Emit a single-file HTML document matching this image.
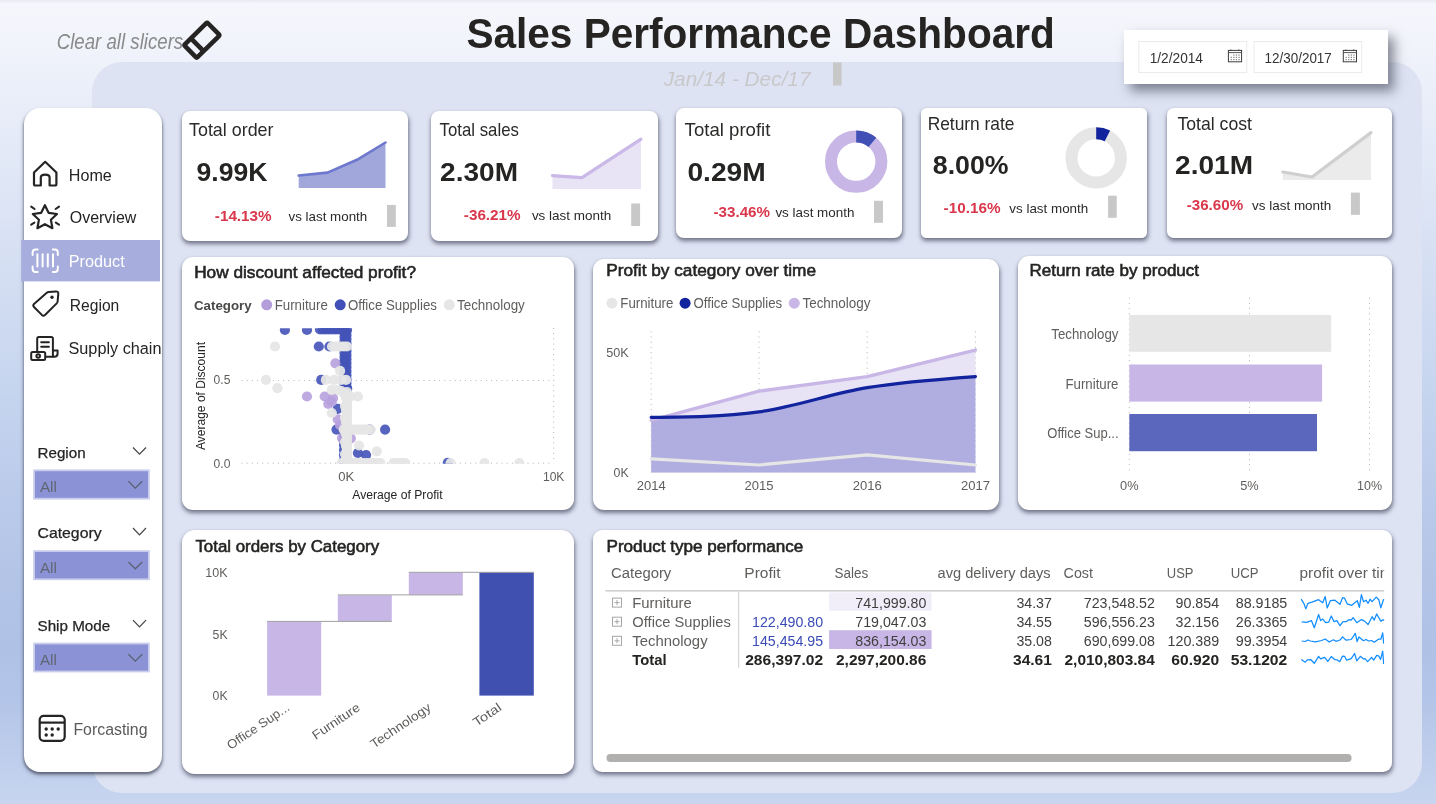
<!DOCTYPE html>
<html lang="en"><head><meta charset="utf-8"><title>Sales Performance Dashboard</title>
<style>
html,body{margin:0;padding:0}
body{width:1436px;height:804px;overflow:hidden;position:relative;font-family:"Liberation Sans", sans-serif;background:#c5d2ee}
#bg{position:absolute;left:0;top:0;width:1436px;height:804px;background:linear-gradient(180deg,#f6f7fc 0px,#f2f4fb 40px,#e9eef9 100px,#dde5f5 200px,#d1dcf2 300px,#c5d4ee 400px,#bacaea 500px,#b1c3e6 600px,#afc1e5 650px,#b3c5e8 700px,#bfceec 760px,#c7d5ef 804px)}
#topstrip{position:absolute;left:0;top:0;width:1436px;height:3px;background:linear-gradient(#e9ebf1,#f1f3fa)}
#panel{position:absolute;left:92px;top:62px;width:1330px;height:731px;border-radius:30px;background:#dde3f3}
.c{position:absolute;background:#fff}
svg{position:absolute;left:0;top:0}
svg text{font-family:"Liberation Sans", sans-serif;white-space:pre}
</style></head><body>
<div id="bg"></div><div id="topstrip"></div><div id="panel"></div>
<div class="c" style="left:24.4px;top:108.0px;width:137.8px;height:663.5px;border-radius:16px;box-shadow:-1px 2px 2px rgba(70,75,95,.33), 1px 2px 2px rgba(70,75,95,.33), 0 3px 4px rgba(70,75,95,.5);background:#fff;"></div>
<div class="c" style="left:182.2px;top:111.2px;width:226.2px;height:130.1px;border-radius:8px;box-shadow:0 0 1.5px rgba(70,75,95,.16), 0.5px 3px 4px rgba(65,70,90,.68);background:#fff;"></div>
<div class="c" style="left:430.5px;top:111.2px;width:227.0px;height:130.1px;border-radius:8px;box-shadow:0 0 1.5px rgba(70,75,95,.16), 0.5px 3px 4px rgba(65,70,90,.68);background:#fff;"></div>
<div class="c" style="left:675.8px;top:107.8px;width:226.7px;height:130.7px;border-radius:8px;box-shadow:0 0 1.5px rgba(70,75,95,.16), 0.5px 3px 4px rgba(65,70,90,.68);background:#fff;"></div>
<div class="c" style="left:920.8px;top:107.8px;width:226.7px;height:130.7px;border-radius:5.5px;box-shadow:0 0 1.5px rgba(70,75,95,.16), 0.5px 3px 4px rgba(65,70,90,.68);background:#fff;"></div>
<div class="c" style="left:1166.6px;top:107.8px;width:225.9px;height:130.7px;border-radius:6.5px;box-shadow:0 0 1.5px rgba(70,75,95,.16), 0.5px 3px 4px rgba(65,70,90,.68);background:#fff;"></div>
<div class="c" style="left:182.4px;top:256.8px;width:391.5px;height:253.4px;border-radius:11px;box-shadow:0 0 1.5px rgba(70,75,95,.16), 0.5px 3px 4px rgba(65,70,90,.68);background:#fff;"></div>
<div class="c" style="left:593.0px;top:259.2px;width:405.9px;height:250.8px;border-radius:11px;box-shadow:0 0 1.5px rgba(70,75,95,.16), 0.5px 3px 4px rgba(65,70,90,.68);background:#fff;"></div>
<div class="c" style="left:1018.4px;top:255.8px;width:373.9px;height:254.5px;border-radius:11px;box-shadow:0 0 1.5px rgba(70,75,95,.16), 0.5px 3px 4px rgba(65,70,90,.68);background:#fff;"></div>
<div class="c" style="left:182.4px;top:529.5px;width:391.3px;height:244.0px;border-radius:12.5px;box-shadow:0 0 1.5px rgba(70,75,95,.16), 0.5px 3px 4px rgba(65,70,90,.68);background:#fff;"></div>
<div class="c" style="left:593.0px;top:530.2px;width:799.2px;height:241.8px;border-radius:9px;box-shadow:0 0 1.5px rgba(70,75,95,.16), 0.5px 3px 4px rgba(65,70,90,.68);background:#fff;"></div>
<div class="c" style="left:1124.0px;top:30.0px;width:263.8px;height:53.5px;border-radius:0px;box-shadow:6px 7px 11px rgba(45,50,65,.55);background:#fff;"></div>
<svg width="1436" height="804" viewBox="0 0 1436 804">
<text x="56.7" y="49.0" font-size="21.5" fill="#8a8a8a" font-style="italic" textLength="126.5" lengthAdjust="spacingAndGlyphs" >Clear all slicers</text>
<g transform="translate(201.9,40.2) rotate(-44.5)" fill="none" stroke="#252423" stroke-width="4.6" stroke-linejoin="round"><rect x="-16.2" y="-9" width="32.4" height="18" rx="1.5"/><line x1="-6.5" y1="-9" x2="-6.5" y2="9"/></g>
<text x="466.4" y="48.4" font-size="43" fill="#252423" font-weight="bold" textLength="588.4" lengthAdjust="spacingAndGlyphs" >Sales Performance Dashboard</text>
<text x="663.7" y="86.2" font-size="21" fill="#c9c9cb" font-style="italic" textLength="146.8" lengthAdjust="spacingAndGlyphs" >Jan/14 - Dec/17</text>
<rect x="833.0" y="62.5" width="8.6" height="23.0" fill="#c8c8c8" />
<rect x="1138.8" y="41.5" width="108.0" height="31" fill="#fff" stroke="#ebebeb" stroke-width="1"/>
<text x="1149.7" y="63.3" font-size="14" fill="#333" textLength="53.3" lengthAdjust="spacingAndGlyphs" >1/2/2014</text>
<g transform="translate(1227.6,49.5)" fill="none" stroke="#3c3c3c" stroke-width="1"><rect x="0.8" y="0.9" width="13.2" height="11.4"/><line x1="0.8" y1="3.1" x2="14" y2="3.1" stroke="#555"/><line x1="3.3" y1="0" x2="3.3" y2="1.2"/><line x1="11.2" y1="0" x2="11.2" y2="1.2"/><rect x="3.0" y="7.3" width="1.3" height="1.1" fill="#7a7a7a" stroke="none"/><rect x="3.0" y="9.6" width="1.3" height="1.1" fill="#7a7a7a" stroke="none"/><rect x="5.6" y="5.0" width="1.3" height="1.1" fill="#7a7a7a" stroke="none"/><rect x="5.6" y="7.3" width="1.3" height="1.1" fill="#7a7a7a" stroke="none"/><rect x="5.6" y="9.6" width="1.3" height="1.1" fill="#7a7a7a" stroke="none"/><rect x="8.2" y="5.0" width="1.3" height="1.1" fill="#7a7a7a" stroke="none"/><rect x="8.2" y="7.3" width="1.3" height="1.1" fill="#7a7a7a" stroke="none"/><rect x="8.2" y="9.6" width="1.3" height="1.1" fill="#7a7a7a" stroke="none"/><rect x="10.8" y="5.0" width="1.3" height="1.1" fill="#7a7a7a" stroke="none"/><rect x="10.8" y="7.3" width="1.3" height="1.1" fill="#7a7a7a" stroke="none"/><rect x="10.8" y="9.6" width="1.3" height="1.1" fill="#7a7a7a" stroke="none"/></g>
<rect x="1254" y="41.5" width="107.7" height="31" fill="#fff" stroke="#ebebeb" stroke-width="1"/>
<text x="1264.6" y="63.3" font-size="14" fill="#333" textLength="67.2" lengthAdjust="spacingAndGlyphs" >12/30/2017</text>
<g transform="translate(1342.5,49.5)" fill="none" stroke="#3c3c3c" stroke-width="1"><rect x="0.8" y="0.9" width="13.2" height="11.4"/><line x1="0.8" y1="3.1" x2="14" y2="3.1" stroke="#555"/><line x1="3.3" y1="0" x2="3.3" y2="1.2"/><line x1="11.2" y1="0" x2="11.2" y2="1.2"/><rect x="3.0" y="7.3" width="1.3" height="1.1" fill="#7a7a7a" stroke="none"/><rect x="3.0" y="9.6" width="1.3" height="1.1" fill="#7a7a7a" stroke="none"/><rect x="5.6" y="5.0" width="1.3" height="1.1" fill="#7a7a7a" stroke="none"/><rect x="5.6" y="7.3" width="1.3" height="1.1" fill="#7a7a7a" stroke="none"/><rect x="5.6" y="9.6" width="1.3" height="1.1" fill="#7a7a7a" stroke="none"/><rect x="8.2" y="5.0" width="1.3" height="1.1" fill="#7a7a7a" stroke="none"/><rect x="8.2" y="7.3" width="1.3" height="1.1" fill="#7a7a7a" stroke="none"/><rect x="8.2" y="9.6" width="1.3" height="1.1" fill="#7a7a7a" stroke="none"/><rect x="10.8" y="5.0" width="1.3" height="1.1" fill="#7a7a7a" stroke="none"/><rect x="10.8" y="7.3" width="1.3" height="1.1" fill="#7a7a7a" stroke="none"/><rect x="10.8" y="9.6" width="1.3" height="1.1" fill="#7a7a7a" stroke="none"/></g>
<rect x="21.2" y="240.0" width="138.8" height="41.4" fill="#a7addc" />
<text x="68.8" y="180.7" font-size="16.8" fill="#252423" textLength="43.0" lengthAdjust="spacingAndGlyphs" >Home</text>
<text x="69.8" y="222.8" font-size="16.8" fill="#252423" textLength="66.5" lengthAdjust="spacingAndGlyphs" >Overview</text>
<text x="68.8" y="266.7" font-size="16.8" fill="#ffffff" textLength="55.9" lengthAdjust="spacingAndGlyphs" >Product</text>
<text x="69.8" y="310.8" font-size="16.8" fill="#252423" textLength="49.5" lengthAdjust="spacingAndGlyphs" >Region</text>
<clipPath id="sbclip"><rect x="24" y="330" width="137.6" height="40"/></clipPath>
<text x="68.5" y="353.8" font-size="16.8" fill="#252423" textLength="93.0" lengthAdjust="spacingAndGlyphs" clip-path="url(#sbclip)">Supply chain</text>
<path d="M34 172.5 L45.2 161.8 L56.4 172.5 V184 Q56.4 185.5 54.9 185.5 H49.6 V177.4 Q49.6 174.6 45.2 174.6 Q40.8 174.6 40.8 177.4 V185.5 H35.5 Q34 185.5 34 184 Z" fill="none" stroke="#252423" stroke-width="2.2" stroke-linejoin="round"/>
<polygon points="44.9,205.2 48.6,212.8 57.0,214.0 50.9,219.8 52.4,228.2 44.9,224.2 37.4,228.2 38.9,219.8 32.8,214.0 41.2,212.8" fill="none" stroke="#252423" stroke-width="2.2" stroke-linejoin="round"/>
<g stroke="#252423" stroke-width="2" stroke-linecap="round"><line x1="31.2" y1="206.6" x2="34.6" y2="209"/><line x1="59" y1="206.6" x2="55.6" y2="209"/><line x1="31.2" y1="224.6" x2="34.4" y2="222.6"/><line x1="59" y1="224.6" x2="55.8" y2="222.6"/></g>
<g fill="none" stroke="#fff" stroke-width="2" stroke-linecap="round"><path d="M32.6 255 V252.4 Q32.6 249.4 35.6 249.4 H37.6"/><path d="M57.8 255 V252.4 Q57.8 249.4 54.8 249.4 H52.8"/><path d="M32.6 266.4 V269 Q32.6 272 35.6 272 H37.6"/><path d="M57.8 266.4 V269 Q57.8 272 54.8 272 H52.8"/><line x1="37.4" y1="254.2" x2="37.4" y2="266.6"/><line x1="42.6" y1="254.2" x2="42.6" y2="266.6"/><line x1="47.8" y1="254.2" x2="47.8" y2="266.6"/><line x1="53" y1="254.2" x2="53" y2="266.6"/></g>
<path d="M48.6 292 L56 291.4 Q58.4 291.3 58.3 293.6 L57.6 301.5 Q57.5 302.6 56.7 303.4 L45 315 Q43.4 316.4 41.8 314.9 L34 307 Q32.6 305.4 34 303.9 L46.8 292.8 Q47.6 292.1 48.6 292 Z" fill="none" stroke="#252423" stroke-width="2" stroke-linejoin="round"/><circle cx="52" cy="297.3" r="1.7" fill="#252423"/>
<g fill="none" stroke="#252423" stroke-width="2" stroke-linejoin="round" stroke-linecap="round"><path d="M37.2 351 V338.6 Q37.2 336.9 38.9 336.9 H51.2 Q52.9 336.9 52.9 338.6 V356.6"/><path d="M52.9 350.6 H57.6 V353.4 Q57.6 356.8 54.2 356.8 H46.5"/><line x1="41.2" y1="342.2" x2="48.9" y2="342.2"/><line x1="41.2" y1="346.8" x2="48.9" y2="346.8"/><rect x="31.2" y="352" width="14" height="8" rx="1.5"/><circle cx="38.2" cy="356" r="1.8"/></g>
<text x="37.5" y="457.9" font-size="14.8" fill="#252423" textLength="48.1" lengthAdjust="spacingAndGlyphs" stroke="#252423" stroke-width="0.25">Region</text>
<polyline points="133,447.5 139.5,454.2 146,447.5" fill="none" stroke="#444" stroke-width="1.2"/>
<rect x="33.2" y="469.4" width="116.6" height="30.2" fill="#c9cdec" />
<rect x="35.0" y="471.2" width="113.0" height="26.6" fill="#8b93d6" />
<text x="39.9" y="491.7" font-size="14.5" fill="#5f6673" textLength="16.9" lengthAdjust="spacingAndGlyphs" >All</text>
<polyline points="128.4,481.3 135.3,488.1 142.2,481.3" fill="none" stroke="#5a6070" stroke-width="1.2"/>
<text x="37.5" y="538.4" font-size="14.8" fill="#252423" textLength="64.1" lengthAdjust="spacingAndGlyphs" stroke="#252423" stroke-width="0.25">Category</text>
<polyline points="133,528.0 139.5,534.8 146,528.0" fill="none" stroke="#444" stroke-width="1.2"/>
<rect x="33.2" y="550.2" width="116.6" height="30.0" fill="#c9cdec" />
<rect x="35.0" y="552.0" width="113.0" height="26.4" fill="#8b93d6" />
<text x="39.9" y="572.5" font-size="14.5" fill="#5f6673" textLength="16.9" lengthAdjust="spacingAndGlyphs" >All</text>
<polyline points="128.4,562.0 135.3,568.8 142.2,562.0" fill="none" stroke="#5a6070" stroke-width="1.2"/>
<text x="37.5" y="630.6" font-size="14.8" fill="#252423" textLength="72.7" lengthAdjust="spacingAndGlyphs" stroke="#252423" stroke-width="0.25">Ship Mode</text>
<polyline points="133,620.2 139.5,627.0 146,620.2" fill="none" stroke="#444" stroke-width="1.2"/>
<rect x="33.2" y="642.6" width="116.6" height="29.8" fill="#c9cdec" />
<rect x="35.0" y="644.4" width="113.0" height="26.2" fill="#8b93d6" />
<text x="39.9" y="665.0" font-size="14.5" fill="#5f6673" textLength="16.9" lengthAdjust="spacingAndGlyphs" >All</text>
<polyline points="128.4,654.3 135.3,661.1 142.2,654.3" fill="none" stroke="#5a6070" stroke-width="1.2"/>
<g fill="none" stroke="#252423" stroke-width="2.2"><rect x="39.7" y="715.8" width="25" height="25" rx="4"/><line x1="39.7" y1="722.6" x2="64.7" y2="722.6"/></g>
<circle cx="46.2" cy="729" r="1.7" fill="#252423"/>
<circle cx="52.2" cy="729" r="1.7" fill="#252423"/>
<circle cx="58.2" cy="729" r="1.7" fill="#252423"/>
<circle cx="46.2" cy="735" r="1.7" fill="#252423"/>
<circle cx="52.2" cy="735" r="1.7" fill="#252423"/>
<text x="73.4" y="735.1" font-size="17.4" fill="#5a5a5a" textLength="74.1" lengthAdjust="spacingAndGlyphs" >Forcasting</text>
<text x="189.0" y="135.8" font-size="18.2" fill="#2b2a29" textLength="84.5" lengthAdjust="spacingAndGlyphs" >Total order</text>
<text x="196.6" y="180.6" font-size="25.6" fill="#252423" font-weight="bold" textLength="70.8" lengthAdjust="spacingAndGlyphs" >9.99K</text>
<text x="214.8" y="221.2" font-size="15" fill="#d9374b" font-weight="bold" textLength="56.9" lengthAdjust="spacingAndGlyphs" >-14.13%</text>
<text x="288.5" y="221.2" font-size="13.1" fill="#2b2a29" textLength="78.7" lengthAdjust="spacingAndGlyphs" >vs last month</text>
<rect x="387.0" y="204.9" width="8.8" height="22.0" fill="#c8c8c8" />
<text x="439.6" y="135.8" font-size="18.2" fill="#2b2a29" textLength="79.3" lengthAdjust="spacingAndGlyphs" >Total sales</text>
<text x="440.1" y="180.6" font-size="25.6" fill="#252423" font-weight="bold" textLength="77.9" lengthAdjust="spacingAndGlyphs" >2.30M</text>
<text x="463.8" y="219.6" font-size="15" fill="#d9374b" font-weight="bold" textLength="56.9" lengthAdjust="spacingAndGlyphs" >-36.21%</text>
<text x="531.9" y="219.6" font-size="13.1" fill="#2b2a29" textLength="79.3" lengthAdjust="spacingAndGlyphs" >vs last month</text>
<rect x="631.2" y="203.5" width="8.9" height="22.5" fill="#c8c8c8" />
<text x="684.6" y="136.0" font-size="18.2" fill="#2b2a29" textLength="85.8" lengthAdjust="spacingAndGlyphs" >Total profit</text>
<text x="687.4" y="180.8" font-size="25.6" fill="#252423" font-weight="bold" textLength="78.3" lengthAdjust="spacingAndGlyphs" >0.29M</text>
<text x="713.5" y="217.3" font-size="15" fill="#d9374b" font-weight="bold" textLength="56.5" lengthAdjust="spacingAndGlyphs" >-33.46%</text>
<text x="775.4" y="217.3" font-size="13.1" fill="#2b2a29" textLength="79.0" lengthAdjust="spacingAndGlyphs" >vs last month</text>
<rect x="874.0" y="200.8" width="9.0" height="22.0" fill="#c8c8c8" />
<text x="927.7" y="129.9" font-size="18.2" fill="#2b2a29" textLength="86.8" lengthAdjust="spacingAndGlyphs" >Return rate</text>
<text x="932.8" y="174.3" font-size="25.6" fill="#252423" font-weight="bold" textLength="75.7" lengthAdjust="spacingAndGlyphs" >8.00%</text>
<text x="943.6" y="213.0" font-size="15" fill="#d9374b" font-weight="bold" textLength="56.9" lengthAdjust="spacingAndGlyphs" >-10.16%</text>
<text x="1009.3" y="213.0" font-size="13.1" fill="#2b2a29" textLength="78.9" lengthAdjust="spacingAndGlyphs" >vs last month</text>
<rect x="1108.1" y="195.7" width="8.6" height="22.1" fill="#c8c8c8" />
<text x="1177.4" y="129.9" font-size="18.2" fill="#2b2a29" textLength="74.6" lengthAdjust="spacingAndGlyphs" >Total cost</text>
<text x="1175.1" y="174.3" font-size="25.6" fill="#252423" font-weight="bold" textLength="77.9" lengthAdjust="spacingAndGlyphs" >2.01M</text>
<text x="1186.7" y="209.8" font-size="15" fill="#d9374b" font-weight="bold" textLength="56.5" lengthAdjust="spacingAndGlyphs" >-36.60%</text>
<text x="1252.0" y="209.8" font-size="13.1" fill="#2b2a29" textLength="79.3" lengthAdjust="spacingAndGlyphs" >vs last month</text>
<rect x="1350.9" y="192.6" width="9.0" height="22.2" fill="#c8c8c8" />
<polygon points="298.7,188 298.7,175.5 327.5,172.6 357.0,159.8 385.5,142.5 385.5,188" fill="#a1a7da"/>
<polyline points="298.7,175.5 327.5,172.6 357.0,159.8 385.5,142.5" fill="none" stroke="#6d77cd" stroke-width="2.6" stroke-linecap="round" stroke-linejoin="round"/>
<polygon points="552.5,189 552.5,175.6 582.0,177.6 641.0,139.2 641.0,189" fill="#e9e3f6"/>
<polyline points="552.5,175.6 582.0,177.6 641.0,139.2" fill="none" stroke="#c9b8e8" stroke-width="3.2" stroke-linecap="round" stroke-linejoin="round"/>
<polygon points="1282.8,179.9 1282.8,172.0 1312.0,177.0 1371.0,132.6 1371.0,179.9" fill="#ebebeb"/>
<polyline points="1282.8,172.0 1312.0,177.0 1371.0,132.6" fill="none" stroke="#cfcfcf" stroke-width="3.2" stroke-linecap="round" stroke-linejoin="round"/>
<circle cx="856.2" cy="161.6" r="25.20" fill="none" stroke="#c8b7e6" stroke-width="12.00"/>
<path d="M856.20 136.40 A25.20 25.20 0 0 1 872.40 142.30" fill="none" stroke="#4050b5" stroke-width="12.00"/>
<circle cx="1096.2" cy="157.9" r="24.70" fill="none" stroke="#e6e6e6" stroke-width="12.00"/>
<path d="M1096.20 133.20 A24.70 24.70 0 0 1 1107.41 135.89" fill="none" stroke="#12239e" stroke-width="12.00"/>
<text x="194.2" y="278.3" font-size="15.9" fill="#252423" textLength="221.8" lengthAdjust="spacingAndGlyphs" stroke="#252423" stroke-width="0.55">How discount affected profit?</text>
<text x="606.2" y="276.2" font-size="15.9" fill="#252423" textLength="209.9" lengthAdjust="spacingAndGlyphs" stroke="#252423" stroke-width="0.55">Profit by category over time</text>
<text x="1029.5" y="276.2" font-size="15.9" fill="#252423" textLength="169.6" lengthAdjust="spacingAndGlyphs" stroke="#252423" stroke-width="0.55">Return rate by product</text>
<text x="195.4" y="552.4" font-size="15.9" fill="#252423" textLength="183.7" lengthAdjust="spacingAndGlyphs" stroke="#252423" stroke-width="0.55">Total orders by Category</text>
<text x="606.5" y="552.4" font-size="15.9" fill="#252423" textLength="196.8" lengthAdjust="spacingAndGlyphs" stroke="#252423" stroke-width="0.55">Product type performance</text>
<text x="194.0" y="309.6" font-size="12.6" fill="#4a4948" font-weight="bold" textLength="57.6" lengthAdjust="spacingAndGlyphs" >Category</text>
<circle cx="266.7" cy="304.8" r="5.5" fill="#b39ddb"/>
<text x="274.7" y="309.6" font-size="13.9" fill="#605e5c" textLength="53.1" lengthAdjust="spacingAndGlyphs" >Furniture</text>
<circle cx="340.2" cy="304.8" r="5.5" fill="#4050b8"/>
<text x="347.9" y="309.6" font-size="13.9" fill="#605e5c" textLength="89.0" lengthAdjust="spacingAndGlyphs" >Office Supplies</text>
<circle cx="449.3" cy="304.8" r="5.5" fill="#e6e6e6"/>
<text x="457.0" y="309.6" font-size="13.9" fill="#605e5c" textLength="67.8" lengthAdjust="spacingAndGlyphs" >Technology</text>
<line x1="241.5" y1="380.5" x2="553.7" y2="380.5" stroke="#b4b4b4" stroke-width="1" stroke-dasharray="1 4.2"/><line x1="241.5" y1="463.2" x2="553.7" y2="463.2" stroke="#b4b4b4" stroke-width="1" stroke-dasharray="1 4.2"/><line x1="346.2" y1="328" x2="346.2" y2="463.2" stroke="#b4b4b4" stroke-width="1" stroke-dasharray="1 4.2"/><line x1="553.7" y1="328" x2="553.7" y2="463.2" stroke="#b4b4b4" stroke-width="1" stroke-dasharray="1 4.2"/>
<text x="213.6" y="384.2" font-size="12" fill="#605e5c" textLength="16.8" lengthAdjust="spacingAndGlyphs" >0.5</text>
<text x="213.6" y="467.5" font-size="12" fill="#605e5c" textLength="16.8" lengthAdjust="spacingAndGlyphs" >0.0</text>
<text x="346.2" y="480.8" font-size="12" fill="#605e5c" text-anchor="middle" textLength="16.0" lengthAdjust="spacingAndGlyphs" >0K</text>
<text x="553.7" y="480.8" font-size="12" fill="#605e5c" text-anchor="middle" textLength="21.5" lengthAdjust="spacingAndGlyphs" >10K</text>
<text x="352.3" y="498.8" font-size="12" fill="#252423" textLength="90.3" lengthAdjust="spacingAndGlyphs" >Average of Profit</text>
<text transform="translate(204.5,450) rotate(-90)" font-size="12" fill="#252423" textLength="108" lengthAdjust="spacingAndGlyphs">Average of Discount</text>
<clipPath id="scclip"><rect x="240" y="328.2" width="320" height="135.6"/></clipPath>
<g clip-path="url(#scclip)"><circle cx="284.9" cy="330.0" r="5.1" fill="#4453b8" fill-opacity="0.9"/><circle cx="307.0" cy="330.0" r="5.1" fill="#4453b8" fill-opacity="0.9"/><circle cx="318.8" cy="346.5" r="5.1" fill="#4453b8" fill-opacity="0.9"/><circle cx="329.4" cy="346.5" r="5.1" fill="#4453b8" fill-opacity="0.9"/><circle cx="343.6" cy="363.8" r="5.1" fill="#4453b8" fill-opacity="0.9"/><circle cx="321.2" cy="379.9" r="5.1" fill="#4453b8" fill-opacity="0.9"/><circle cx="347.2" cy="388.7" r="5.1" fill="#4453b8" fill-opacity="0.9"/><circle cx="337.7" cy="408.8" r="5.1" fill="#4453b8" fill-opacity="0.9"/><circle cx="336.5" cy="429.6" r="5.1" fill="#4453b8" fill-opacity="0.9"/><circle cx="369.7" cy="429.6" r="5.1" fill="#4453b8" fill-opacity="0.9"/><circle cx="385.1" cy="429.6" r="5.1" fill="#4453b8" fill-opacity="0.9"/><circle cx="366.1" cy="455.0" r="5.1" fill="#4453b8" fill-opacity="0.9"/><circle cx="357.9" cy="453.0" r="5.1" fill="#4453b8" fill-opacity="0.9"/><circle cx="447.8" cy="462.8" r="5.1" fill="#4453b8" fill-opacity="0.9"/><circle cx="320.0" cy="329.5" r="5.1" fill="#4453b8" fill-opacity="0.9"/><circle cx="323.0" cy="329.5" r="5.1" fill="#4453b8" fill-opacity="0.9"/><circle cx="326.0" cy="329.5" r="5.1" fill="#4453b8" fill-opacity="0.9"/><circle cx="329.0" cy="329.5" r="5.1" fill="#4453b8" fill-opacity="0.9"/><circle cx="332.0" cy="329.5" r="5.1" fill="#4453b8" fill-opacity="0.9"/><circle cx="335.0" cy="329.5" r="5.1" fill="#4453b8" fill-opacity="0.9"/><circle cx="338.0" cy="329.5" r="5.1" fill="#4453b8" fill-opacity="0.9"/><circle cx="341.0" cy="329.5" r="5.1" fill="#4453b8" fill-opacity="0.9"/><circle cx="344.0" cy="329.5" r="5.1" fill="#4453b8" fill-opacity="0.9"/><circle cx="347.0" cy="329.5" r="5.1" fill="#4453b8" fill-opacity="0.9"/><circle cx="346.5" cy="331.0" r="5.1" fill="#4453b8" fill-opacity="0.9"/><circle cx="344.5" cy="333.0" r="5.1" fill="#4453b8" fill-opacity="0.9"/><circle cx="346.5" cy="335.0" r="5.1" fill="#4453b8" fill-opacity="0.9"/><circle cx="344.5" cy="337.0" r="5.1" fill="#4453b8" fill-opacity="0.9"/><circle cx="346.5" cy="339.0" r="5.1" fill="#4453b8" fill-opacity="0.9"/><circle cx="344.5" cy="341.0" r="5.1" fill="#4453b8" fill-opacity="0.9"/><circle cx="346.5" cy="343.0" r="5.1" fill="#4453b8" fill-opacity="0.9"/><circle cx="344.5" cy="345.0" r="5.1" fill="#4453b8" fill-opacity="0.9"/><circle cx="346.5" cy="347.0" r="5.1" fill="#4453b8" fill-opacity="0.9"/><circle cx="344.5" cy="349.0" r="5.1" fill="#4453b8" fill-opacity="0.9"/><circle cx="346.5" cy="351.0" r="5.1" fill="#4453b8" fill-opacity="0.9"/><circle cx="344.5" cy="353.0" r="5.1" fill="#4453b8" fill-opacity="0.9"/><circle cx="346.5" cy="355.0" r="5.1" fill="#4453b8" fill-opacity="0.9"/><circle cx="344.5" cy="357.0" r="5.1" fill="#4453b8" fill-opacity="0.9"/><circle cx="346.5" cy="359.0" r="5.1" fill="#4453b8" fill-opacity="0.9"/><circle cx="344.5" cy="361.0" r="5.1" fill="#4453b8" fill-opacity="0.9"/><circle cx="346.5" cy="363.0" r="5.1" fill="#4453b8" fill-opacity="0.9"/><circle cx="344.5" cy="365.0" r="5.1" fill="#4453b8" fill-opacity="0.9"/><circle cx="346.5" cy="367.0" r="5.1" fill="#4453b8" fill-opacity="0.9"/><circle cx="344.5" cy="369.0" r="5.1" fill="#4453b8" fill-opacity="0.9"/><circle cx="346.5" cy="371.0" r="5.1" fill="#4453b8" fill-opacity="0.9"/><circle cx="344.5" cy="373.0" r="5.1" fill="#4453b8" fill-opacity="0.9"/><circle cx="346.5" cy="375.0" r="5.1" fill="#4453b8" fill-opacity="0.9"/><circle cx="344.5" cy="377.0" r="5.1" fill="#4453b8" fill-opacity="0.9"/><circle cx="346.5" cy="379.0" r="5.1" fill="#4453b8" fill-opacity="0.9"/><circle cx="344.5" cy="381.0" r="5.1" fill="#4453b8" fill-opacity="0.9"/><circle cx="346.5" cy="383.0" r="5.1" fill="#4453b8" fill-opacity="0.9"/><circle cx="344.5" cy="385.0" r="5.1" fill="#4453b8" fill-opacity="0.9"/><circle cx="346.5" cy="387.0" r="5.1" fill="#4453b8" fill-opacity="0.9"/><circle cx="344.5" cy="389.0" r="5.1" fill="#4453b8" fill-opacity="0.9"/><circle cx="346.5" cy="391.0" r="5.1" fill="#4453b8" fill-opacity="0.9"/><circle cx="344.5" cy="393.0" r="5.1" fill="#4453b8" fill-opacity="0.9"/><circle cx="344.0" cy="430.0" r="5.1" fill="#4453b8" fill-opacity="0.9"/><circle cx="344.0" cy="435.0" r="5.1" fill="#4453b8" fill-opacity="0.9"/><circle cx="344.0" cy="440.0" r="5.1" fill="#4453b8" fill-opacity="0.9"/><circle cx="344.0" cy="445.0" r="5.1" fill="#4453b8" fill-opacity="0.9"/><circle cx="344.0" cy="450.0" r="5.1" fill="#4453b8" fill-opacity="0.9"/><circle cx="344.0" cy="455.0" r="5.1" fill="#4453b8" fill-opacity="0.9"/><circle cx="344.0" cy="460.0" r="5.1" fill="#4453b8" fill-opacity="0.9"/><circle cx="344.0" cy="465.0" r="5.1" fill="#4453b8" fill-opacity="0.9"/><circle cx="307.0" cy="396.5" r="5.1" fill="#b7a1de" fill-opacity="0.9"/><circle cx="324.7" cy="396.5" r="5.1" fill="#b7a1de" fill-opacity="0.9"/><circle cx="335.4" cy="363.3" r="5.1" fill="#b7a1de" fill-opacity="0.9"/><circle cx="328.3" cy="404.0" r="5.1" fill="#b7a1de" fill-opacity="0.9"/><circle cx="331.8" cy="401.7" r="5.1" fill="#b7a1de" fill-opacity="0.9"/><circle cx="337.7" cy="419.4" r="5.1" fill="#b7a1de" fill-opacity="0.9"/><circle cx="350.8" cy="438.4" r="5.1" fill="#b7a1de" fill-opacity="0.9"/><circle cx="342.0" cy="438.0" r="5.1" fill="#b7a1de" fill-opacity="0.9"/><circle cx="340.0" cy="425.0" r="5.1" fill="#b7a1de" fill-opacity="0.9"/><circle cx="333.0" cy="398.0" r="5.1" fill="#b7a1de" fill-opacity="0.9"/><circle cx="275.0" cy="346.5" r="5.1" fill="#e6e6e6" fill-opacity="0.95"/><circle cx="266.0" cy="379.9" r="5.1" fill="#e6e6e6" fill-opacity="0.95"/><circle cx="277.4" cy="388.2" r="5.1" fill="#e6e6e6" fill-opacity="0.95"/><circle cx="340.1" cy="370.9" r="5.1" fill="#e6e6e6" fill-opacity="0.95"/><circle cx="325.9" cy="379.9" r="5.1" fill="#e6e6e6" fill-opacity="0.95"/><circle cx="334.2" cy="379.9" r="5.1" fill="#e6e6e6" fill-opacity="0.95"/><circle cx="341.3" cy="379.9" r="5.1" fill="#e6e6e6" fill-opacity="0.95"/><circle cx="346.0" cy="379.9" r="5.1" fill="#e6e6e6" fill-opacity="0.95"/><circle cx="331.8" cy="389.8" r="5.1" fill="#e6e6e6" fill-opacity="0.95"/><circle cx="337.7" cy="389.8" r="5.1" fill="#e6e6e6" fill-opacity="0.95"/><circle cx="341.3" cy="391.0" r="5.1" fill="#e6e6e6" fill-opacity="0.95"/><circle cx="357.9" cy="396.5" r="5.1" fill="#e6e6e6" fill-opacity="0.95"/><circle cx="346.0" cy="396.5" r="5.1" fill="#e6e6e6" fill-opacity="0.95"/><circle cx="350.8" cy="396.5" r="5.1" fill="#e6e6e6" fill-opacity="0.95"/><circle cx="331.8" cy="413.0" r="5.1" fill="#e6e6e6" fill-opacity="0.95"/><circle cx="359.0" cy="445.5" r="5.1" fill="#e6e6e6" fill-opacity="0.95"/><circle cx="376.8" cy="451.4" r="5.1" fill="#e6e6e6" fill-opacity="0.95"/><circle cx="450.6" cy="463.0" r="5.1" fill="#e6e6e6" fill-opacity="0.95"/><circle cx="484.5" cy="463.0" r="5.1" fill="#e6e6e6" fill-opacity="0.95"/><circle cx="519.3" cy="463.0" r="5.1" fill="#e6e6e6" fill-opacity="0.95"/><circle cx="332.0" cy="346.5" r="5.1" fill="#e6e6e6" fill-opacity="0.95"/><circle cx="335.0" cy="346.5" r="5.1" fill="#e6e6e6" fill-opacity="0.95"/><circle cx="338.0" cy="346.5" r="5.1" fill="#e6e6e6" fill-opacity="0.95"/><circle cx="341.0" cy="346.5" r="5.1" fill="#e6e6e6" fill-opacity="0.95"/><circle cx="344.0" cy="346.5" r="5.1" fill="#e6e6e6" fill-opacity="0.95"/><circle cx="347.0" cy="346.5" r="5.1" fill="#e6e6e6" fill-opacity="0.95"/><circle cx="347.0" cy="392.0" r="5.1" fill="#e6e6e6" fill-opacity="0.95"/><circle cx="345.0" cy="394.0" r="5.1" fill="#e6e6e6" fill-opacity="0.95"/><circle cx="347.0" cy="396.0" r="5.1" fill="#e6e6e6" fill-opacity="0.95"/><circle cx="346.0" cy="398.0" r="5.1" fill="#e6e6e6" fill-opacity="0.95"/><circle cx="347.0" cy="400.0" r="5.1" fill="#e6e6e6" fill-opacity="0.95"/><circle cx="347.0" cy="402.0" r="5.1" fill="#e6e6e6" fill-opacity="0.95"/><circle cx="347.0" cy="404.0" r="5.1" fill="#e6e6e6" fill-opacity="0.95"/><circle cx="345.0" cy="406.0" r="5.1" fill="#e6e6e6" fill-opacity="0.95"/><circle cx="347.0" cy="408.0" r="5.1" fill="#e6e6e6" fill-opacity="0.95"/><circle cx="346.0" cy="410.0" r="5.1" fill="#e6e6e6" fill-opacity="0.95"/><circle cx="347.0" cy="412.0" r="5.1" fill="#e6e6e6" fill-opacity="0.95"/><circle cx="347.0" cy="414.0" r="5.1" fill="#e6e6e6" fill-opacity="0.95"/><circle cx="347.0" cy="416.0" r="5.1" fill="#e6e6e6" fill-opacity="0.95"/><circle cx="345.0" cy="418.0" r="5.1" fill="#e6e6e6" fill-opacity="0.95"/><circle cx="347.0" cy="420.0" r="5.1" fill="#e6e6e6" fill-opacity="0.95"/><circle cx="346.0" cy="422.0" r="5.1" fill="#e6e6e6" fill-opacity="0.95"/><circle cx="347.0" cy="424.0" r="5.1" fill="#e6e6e6" fill-opacity="0.95"/><circle cx="347.0" cy="426.0" r="5.1" fill="#e6e6e6" fill-opacity="0.95"/><circle cx="347.0" cy="428.0" r="5.1" fill="#e6e6e6" fill-opacity="0.95"/><circle cx="345.0" cy="430.0" r="5.1" fill="#e6e6e6" fill-opacity="0.95"/><circle cx="347.0" cy="432.0" r="5.1" fill="#e6e6e6" fill-opacity="0.95"/><circle cx="346.0" cy="434.0" r="5.1" fill="#e6e6e6" fill-opacity="0.95"/><circle cx="347.0" cy="436.0" r="5.1" fill="#e6e6e6" fill-opacity="0.95"/><circle cx="347.0" cy="438.0" r="5.1" fill="#e6e6e6" fill-opacity="0.95"/><circle cx="347.0" cy="440.0" r="5.1" fill="#e6e6e6" fill-opacity="0.95"/><circle cx="345.0" cy="442.0" r="5.1" fill="#e6e6e6" fill-opacity="0.95"/><circle cx="347.0" cy="444.0" r="5.1" fill="#e6e6e6" fill-opacity="0.95"/><circle cx="346.0" cy="446.0" r="5.1" fill="#e6e6e6" fill-opacity="0.95"/><circle cx="347.0" cy="448.0" r="5.1" fill="#e6e6e6" fill-opacity="0.95"/><circle cx="347.0" cy="450.0" r="5.1" fill="#e6e6e6" fill-opacity="0.95"/><circle cx="347.0" cy="452.0" r="5.1" fill="#e6e6e6" fill-opacity="0.95"/><circle cx="345.0" cy="454.0" r="5.1" fill="#e6e6e6" fill-opacity="0.95"/><circle cx="347.0" cy="456.0" r="5.1" fill="#e6e6e6" fill-opacity="0.95"/><circle cx="346.0" cy="458.0" r="5.1" fill="#e6e6e6" fill-opacity="0.95"/><circle cx="347.0" cy="460.0" r="5.1" fill="#e6e6e6" fill-opacity="0.95"/><circle cx="347.0" cy="462.0" r="5.1" fill="#e6e6e6" fill-opacity="0.95"/><circle cx="343.7" cy="429.6" r="5.1" fill="#e6e6e6" fill-opacity="0.95"/><circle cx="346.7" cy="429.6" r="5.1" fill="#e6e6e6" fill-opacity="0.95"/><circle cx="349.7" cy="429.6" r="5.1" fill="#e6e6e6" fill-opacity="0.95"/><circle cx="352.7" cy="429.6" r="5.1" fill="#e6e6e6" fill-opacity="0.95"/><circle cx="355.7" cy="429.6" r="5.1" fill="#e6e6e6" fill-opacity="0.95"/><circle cx="358.7" cy="429.6" r="5.1" fill="#e6e6e6" fill-opacity="0.95"/><circle cx="361.7" cy="429.6" r="5.1" fill="#e6e6e6" fill-opacity="0.95"/><circle cx="364.7" cy="429.6" r="5.1" fill="#e6e6e6" fill-opacity="0.95"/><circle cx="367.7" cy="429.6" r="5.1" fill="#e6e6e6" fill-opacity="0.95"/><circle cx="370.7" cy="429.6" r="5.1" fill="#e6e6e6" fill-opacity="0.95"/><circle cx="341.5" cy="463.0" r="5.1" fill="#e6e6e6" fill-opacity="0.95"/><circle cx="344.5" cy="463.0" r="5.1" fill="#e6e6e6" fill-opacity="0.95"/><circle cx="347.5" cy="463.0" r="5.1" fill="#e6e6e6" fill-opacity="0.95"/><circle cx="350.5" cy="463.0" r="5.1" fill="#e6e6e6" fill-opacity="0.95"/><circle cx="353.5" cy="463.0" r="5.1" fill="#e6e6e6" fill-opacity="0.95"/><circle cx="356.5" cy="463.0" r="5.1" fill="#e6e6e6" fill-opacity="0.95"/><circle cx="359.5" cy="463.0" r="5.1" fill="#e6e6e6" fill-opacity="0.95"/><circle cx="362.5" cy="463.0" r="5.1" fill="#e6e6e6" fill-opacity="0.95"/><circle cx="365.5" cy="463.0" r="5.1" fill="#e6e6e6" fill-opacity="0.95"/><circle cx="368.5" cy="463.0" r="5.1" fill="#e6e6e6" fill-opacity="0.95"/><circle cx="371.5" cy="463.0" r="5.1" fill="#e6e6e6" fill-opacity="0.95"/><circle cx="374.5" cy="463.0" r="5.1" fill="#e6e6e6" fill-opacity="0.95"/><circle cx="377.5" cy="463.0" r="5.1" fill="#e6e6e6" fill-opacity="0.95"/><circle cx="380.5" cy="463.0" r="5.1" fill="#e6e6e6" fill-opacity="0.95"/><circle cx="393.4" cy="463.0" r="5.1" fill="#e6e6e6" fill-opacity="0.95"/><circle cx="396.4" cy="463.0" r="5.1" fill="#e6e6e6" fill-opacity="0.95"/><circle cx="399.4" cy="463.0" r="5.1" fill="#e6e6e6" fill-opacity="0.95"/><circle cx="402.4" cy="463.0" r="5.1" fill="#e6e6e6" fill-opacity="0.95"/><circle cx="405.4" cy="463.0" r="5.1" fill="#e6e6e6" fill-opacity="0.95"/></g>
<circle cx="611.9" cy="303.2" r="5.5" fill="#e6e6e6"/>
<text x="620.3" y="308.0" font-size="13.9" fill="#605e5c" textLength="53.1" lengthAdjust="spacingAndGlyphs" >Furniture</text>
<circle cx="685.1" cy="303.2" r="5.5" fill="#12239e"/>
<text x="693.5" y="308.0" font-size="13.9" fill="#605e5c" textLength="88.7" lengthAdjust="spacingAndGlyphs" >Office Supplies</text>
<circle cx="794.3" cy="303.2" r="5.5" fill="#c8b7e6"/>
<text x="802.4" y="308.0" font-size="13.9" fill="#605e5c" textLength="68.2" lengthAdjust="spacingAndGlyphs" >Technology</text>
<line x1="651.2" y1="331.3" x2="651.2" y2="472.4" stroke="#b4b4b4" stroke-width="1" stroke-dasharray="1 4.2"/>
<line x1="759" y1="331.3" x2="759" y2="472.4" stroke="#b4b4b4" stroke-width="1" stroke-dasharray="1 4.2"/>
<line x1="867.2" y1="331.3" x2="867.2" y2="472.4" stroke="#b4b4b4" stroke-width="1" stroke-dasharray="1 4.2"/>
<line x1="975.4" y1="331.3" x2="975.4" y2="472.4" stroke="#b4b4b4" stroke-width="1" stroke-dasharray="1 4.2"/>
<text x="606.2" y="357.0" font-size="13" fill="#605e5c" textLength="22.5" lengthAdjust="spacingAndGlyphs" >50K</text>
<text x="613.6" y="477.0" font-size="13" fill="#605e5c" textLength="15.1" lengthAdjust="spacingAndGlyphs" >0K</text>
<text x="651.2" y="489.8" font-size="13" fill="#605e5c" text-anchor="middle" textLength="29.0" lengthAdjust="spacingAndGlyphs" >2014</text>
<text x="759.0" y="489.8" font-size="13" fill="#605e5c" text-anchor="middle" textLength="29.0" lengthAdjust="spacingAndGlyphs" >2015</text>
<text x="867.2" y="489.8" font-size="13" fill="#605e5c" text-anchor="middle" textLength="29.0" lengthAdjust="spacingAndGlyphs" >2016</text>
<text x="975.4" y="489.8" font-size="13" fill="#605e5c" text-anchor="middle" textLength="29.0" lengthAdjust="spacingAndGlyphs" >2017</text>
<polygon points="651.2,472.4 651.2,420.3 759.0,391.1 867.2,376.6 975.4,350.1 975.4,472.4" fill="#e9e3f6"/>
<path d="M651.2 417.3 C687.1 417.1 723.1 416.8 759.0 411.9 C795.1 407.0 831.1 393.6 867.2 387.7 C903.3 381.8 939.3 379.2 975.4 376.6 L975.4 472.4 L651.2 472.4 Z" fill="#b0aee0"/>
<polyline points="651.2,420.3 759.0,391.1 867.2,376.6 975.4,350.1" fill="none" stroke="#c8b7e6" stroke-width="3.4" stroke-linecap="round" stroke-linejoin="round"/>
<path d="M651.2 417.3 C687.1 417.1 723.1 416.8 759.0 411.9 C795.1 407.0 831.1 393.6 867.2 387.7 C903.3 381.8 939.3 379.2 975.4 376.6" fill="none" stroke="#12239e" stroke-width="3.2" stroke-linecap="round"/>
<polyline points="651.2,458.9 759.0,465.0 867.2,454.9 975.4,465.0" fill="none" stroke="#e6e6e6" stroke-width="3.2" stroke-linecap="round" stroke-linejoin="round"/>
<line x1="1129.3" y1="297.7" x2="1129.3" y2="473.4" stroke="#b4b4b4" stroke-width="1" stroke-dasharray="1 4.2"/>
<line x1="1249.5" y1="297.7" x2="1249.5" y2="473.4" stroke="#b4b4b4" stroke-width="1" stroke-dasharray="1 4.2"/>
<line x1="1369.5" y1="297.7" x2="1369.5" y2="473.4" stroke="#b4b4b4" stroke-width="1" stroke-dasharray="1 4.2"/>
<rect x="1129.3" y="314.9" width="201.9" height="36.9" fill="#e6e6e6" />
<rect x="1129.3" y="364.5" width="192.8" height="37.1" fill="#c8b7e6" />
<rect x="1129.3" y="414.0" width="187.7" height="37.2" fill="#5b66bd" />
<text x="1118.5" y="339.2" font-size="13.8" fill="#605e5c" text-anchor="end" textLength="67.2" lengthAdjust="spacingAndGlyphs" >Technology</text>
<text x="1118.5" y="388.6" font-size="13.8" fill="#605e5c" text-anchor="end" textLength="53.0" lengthAdjust="spacingAndGlyphs" >Furniture</text>
<text x="1118.5" y="438.0" font-size="13.8" fill="#605e5c" text-anchor="end" textLength="71.2" lengthAdjust="spacingAndGlyphs" >Office Sup...</text>
<text x="1129.3" y="490.2" font-size="13" fill="#605e5c" text-anchor="middle" textLength="18.5" lengthAdjust="spacingAndGlyphs" >0%</text>
<text x="1249.5" y="490.2" font-size="13" fill="#605e5c" text-anchor="middle" textLength="18.5" lengthAdjust="spacingAndGlyphs" >5%</text>
<text x="1369.5" y="490.2" font-size="13" fill="#605e5c" text-anchor="middle" textLength="25.0" lengthAdjust="spacingAndGlyphs" >10%</text>
<text x="205.3" y="576.8" font-size="13" fill="#605e5c" textLength="22.3" lengthAdjust="spacingAndGlyphs" >10K</text>
<text x="212.6" y="638.6" font-size="13" fill="#605e5c" textLength="15.0" lengthAdjust="spacingAndGlyphs" >5K</text>
<text x="212.6" y="700.2" font-size="13" fill="#605e5c" textLength="15.0" lengthAdjust="spacingAndGlyphs" >0K</text>
<rect x="267.1" y="621.4" width="54.1" height="74.2" fill="#c8b7e6" />
<rect x="337.8" y="595.2" width="54.0" height="26.2" fill="#c8b7e6" />
<rect x="408.8" y="572.3" width="54.0" height="22.6" fill="#c8b7e6" />
<rect x="479.4" y="572.3" width="54.4" height="123.3" fill="#4050b0" />
<g stroke="#a0a0a0" stroke-width="1"><line x1="267.1" y1="621.4" x2="391.8" y2="621.4"/><line x1="337.8" y1="594.9" x2="462.8" y2="594.9"/><line x1="408.8" y1="572.3" x2="533.8" y2="572.3"/></g>
<text transform="translate(290.5,709.5) rotate(-34)" font-size="12.6" fill="#605e5c" text-anchor="end" textLength="72.5" lengthAdjust="spacingAndGlyphs">Office Sup...</text>
<text transform="translate(361,709.5) rotate(-34)" font-size="12.6" fill="#605e5c" text-anchor="end" textLength="54.5" lengthAdjust="spacingAndGlyphs">Furniture</text>
<text transform="translate(432,709.5) rotate(-34)" font-size="12.6" fill="#605e5c" text-anchor="end" textLength="70" lengthAdjust="spacingAndGlyphs">Technology</text>
<text transform="translate(502.5,709.5) rotate(-34)" font-size="12.6" fill="#605e5c" text-anchor="end" textLength="31.5" lengthAdjust="spacingAndGlyphs">Total</text>
<text x="611.1" y="578.2" font-size="15.3" fill="#605e5c" textLength="60.2" lengthAdjust="spacingAndGlyphs" >Category</text>
<text x="744.3" y="578.2" font-size="15.3" fill="#605e5c" textLength="36.2" lengthAdjust="spacingAndGlyphs" >Profit</text>
<text x="834.4" y="578.2" font-size="15.3" fill="#605e5c" textLength="33.8" lengthAdjust="spacingAndGlyphs" >Sales</text>
<text x="937.6" y="578.2" font-size="15.3" fill="#605e5c" textLength="112.9" lengthAdjust="spacingAndGlyphs" >avg delivery days</text>
<text x="1063.6" y="578.2" font-size="15.3" fill="#605e5c" textLength="29.4" lengthAdjust="spacingAndGlyphs" >Cost</text>
<text x="1166.8" y="578.2" font-size="15.3" fill="#605e5c" textLength="26.7" lengthAdjust="spacingAndGlyphs" >USP</text>
<text x="1230.7" y="578.2" font-size="15.3" fill="#605e5c" textLength="27.8" lengthAdjust="spacingAndGlyphs" >UCP</text>
<clipPath id="tbclip"><rect x="1290" y="560" width="94.2" height="120"/></clipPath>
<text x="1299.6" y="578.2" font-size="15.3" fill="#605e5c" textLength="101.4" lengthAdjust="spacingAndGlyphs" clip-path="url(#tbclip)">profit over time</text>
<rect x="605.4" y="590.0" width="778.8" height="1.6" fill="#d0d0d0" />
<rect x="738.0" y="591.6" width="1.2" height="76.1" fill="#d4d4d4" />
<rect x="829.1" y="592.4" width="102.5" height="18.4" fill="#f1eef9" />
<rect x="829.1" y="630.2" width="102.5" height="18.8" fill="#c8b7e6" />
<text x="632.3" y="607.6" font-size="15.3" fill="#605e5c" textLength="59.4" lengthAdjust="spacingAndGlyphs" >Furniture</text>
<g stroke="#a6a6a6" stroke-width="1" fill="none"><rect x="612.5" y="598.1" width="9" height="9"/><line x1="614.5" y1="602.6" x2="619.5" y2="602.6"/><line x1="617" y1="600.1" x2="617" y2="605.1"/></g>
<text x="926.3" y="607.6" font-size="15.3" fill="#403f3e" text-anchor="end" textLength="71.0" lengthAdjust="spacingAndGlyphs" >741,999.80</text>
<text x="1051.9" y="607.6" font-size="15.3" fill="#403f3e" text-anchor="end" textLength="35.5" lengthAdjust="spacingAndGlyphs" >34.37</text>
<text x="1154.8" y="607.6" font-size="15.3" fill="#403f3e" text-anchor="end" textLength="71.0" lengthAdjust="spacingAndGlyphs" >723,548.52</text>
<text x="1219.1" y="607.6" font-size="15.3" fill="#403f3e" text-anchor="end" textLength="43.5" lengthAdjust="spacingAndGlyphs" >90.854</text>
<text x="1287.3" y="607.6" font-size="15.3" fill="#403f3e" text-anchor="end" textLength="51.6" lengthAdjust="spacingAndGlyphs" >88.9185</text>
<polyline points="1301.2,599.2 1303.8,603.3 1305.8,608.9 1307.9,603.3 1311.9,602.2 1318.6,599.7 1322.7,602.8 1325.2,596.6 1327.2,607.9 1330.3,600.7 1334.9,600.2 1340.0,604.3 1342.6,597.7 1344.6,598.2 1347.1,603.8 1351.7,605.3 1357.3,600.7 1359.4,607.3 1361.4,594.6 1363.5,601.7 1366.0,600.2 1368.1,603.3 1370.1,599.2 1372.1,601.7 1376.2,597.1 1378.8,599.7 1380.8,607.9 1383.4,599.7 1384.9,599.7" fill="none" stroke="#118dff" stroke-width="1.25" stroke-linejoin="round" clip-path="url(#tbclip)"/>
<text x="632.3" y="626.7" font-size="15.3" fill="#605e5c" textLength="98.6" lengthAdjust="spacingAndGlyphs" >Office Supplies</text>
<g stroke="#a6a6a6" stroke-width="1" fill="none"><rect x="612.5" y="617.2" width="9" height="9"/><line x1="614.5" y1="621.7" x2="619.5" y2="621.7"/><line x1="617" y1="619.2" x2="617" y2="624.2"/></g>
<text x="823.1" y="626.7" font-size="15.3" fill="#3a4bb5" text-anchor="end" textLength="71.0" lengthAdjust="spacingAndGlyphs" >122,490.80</text>
<text x="926.3" y="626.7" font-size="15.3" fill="#403f3e" text-anchor="end" textLength="71.0" lengthAdjust="spacingAndGlyphs" >719,047.03</text>
<text x="1051.9" y="626.7" font-size="15.3" fill="#403f3e" text-anchor="end" textLength="35.5" lengthAdjust="spacingAndGlyphs" >34.55</text>
<text x="1154.8" y="626.7" font-size="15.3" fill="#403f3e" text-anchor="end" textLength="71.0" lengthAdjust="spacingAndGlyphs" >596,556.23</text>
<text x="1219.1" y="626.7" font-size="15.3" fill="#403f3e" text-anchor="end" textLength="43.5" lengthAdjust="spacingAndGlyphs" >32.156</text>
<text x="1287.3" y="626.7" font-size="15.3" fill="#403f3e" text-anchor="end" textLength="51.6" lengthAdjust="spacingAndGlyphs" >26.3365</text>
<polyline points="1301.7,621.8 1306.8,622.4 1311.4,620.6 1314.3,627.8 1318.6,614.5 1320.6,620.6 1322.7,619.1 1325.7,622.7 1328.8,622.1 1331.3,616.0 1333.9,621.6 1336.9,620.6 1340.0,625.7 1343.1,621.6 1346.6,621.6 1349.2,619.6 1351.2,620.1 1353.1,617.6 1356.8,622.7 1361.4,619.6 1364.5,621.1 1368.1,624.5 1372.1,616.7 1374.2,620.1 1376.7,614.0 1380.8,621.1 1382.9,619.8 1384.9,620.4" fill="none" stroke="#118dff" stroke-width="1.25" stroke-linejoin="round" clip-path="url(#tbclip)"/>
<text x="632.3" y="645.8" font-size="15.3" fill="#605e5c" textLength="75.3" lengthAdjust="spacingAndGlyphs" >Technology</text>
<g stroke="#a6a6a6" stroke-width="1" fill="none"><rect x="612.5" y="636.3" width="9" height="9"/><line x1="614.5" y1="640.8" x2="619.5" y2="640.8"/><line x1="617" y1="638.3" x2="617" y2="643.3"/></g>
<text x="823.1" y="645.8" font-size="15.3" fill="#3a4bb5" text-anchor="end" textLength="71.0" lengthAdjust="spacingAndGlyphs" >145,454.95</text>
<text x="926.3" y="645.8" font-size="15.3" fill="#403f3e" text-anchor="end" textLength="71.0" lengthAdjust="spacingAndGlyphs" >836,154.03</text>
<text x="1051.9" y="645.8" font-size="15.3" fill="#403f3e" text-anchor="end" textLength="35.5" lengthAdjust="spacingAndGlyphs" >35.08</text>
<text x="1154.8" y="645.8" font-size="15.3" fill="#403f3e" text-anchor="end" textLength="71.0" lengthAdjust="spacingAndGlyphs" >690,699.08</text>
<text x="1219.1" y="645.8" font-size="15.3" fill="#403f3e" text-anchor="end" textLength="51.6" lengthAdjust="spacingAndGlyphs" >120.389</text>
<text x="1287.3" y="645.8" font-size="15.3" fill="#403f3e" text-anchor="end" textLength="51.6" lengthAdjust="spacingAndGlyphs" >99.3954</text>
<polyline points="1301.7,641.0 1305.3,641.5 1307.9,640.0 1310.4,641.0 1315.5,641.8 1321.6,640.5 1325.2,639.0 1329.3,642.0 1333.4,639.8 1335.9,641.3 1340.0,640.0 1342.6,636.9 1346.1,640.2 1351.2,639.5 1355.3,633.4 1357.1,641.5 1358.9,636.9 1363.5,640.7 1366.0,639.5 1368.6,641.0 1371.6,640.5 1374.2,642.3 1378.8,639.0 1380.8,639.2 1382.7,632.9 1383.7,643.6" fill="none" stroke="#118dff" stroke-width="1.25" stroke-linejoin="round" clip-path="url(#tbclip)"/>
<text x="632.3" y="664.9" font-size="15.3" fill="#252423" font-weight="bold" textLength="34.3" lengthAdjust="spacingAndGlyphs" >Total</text>
<text x="823.1" y="664.9" font-size="15.3" fill="#252423" font-weight="bold" text-anchor="end" textLength="77.9" lengthAdjust="spacingAndGlyphs" >286,397.02</text>
<text x="926.3" y="664.9" font-size="15.3" fill="#252423" font-weight="bold" text-anchor="end" textLength="90.3" lengthAdjust="spacingAndGlyphs" >2,297,200.86</text>
<text x="1051.9" y="664.9" font-size="15.3" fill="#252423" font-weight="bold" text-anchor="end" textLength="38.9" lengthAdjust="spacingAndGlyphs" >34.61</text>
<text x="1154.8" y="664.9" font-size="15.3" fill="#252423" font-weight="bold" text-anchor="end" textLength="90.3" lengthAdjust="spacingAndGlyphs" >2,010,803.84</text>
<text x="1219.1" y="664.9" font-size="15.3" fill="#252423" font-weight="bold" text-anchor="end" textLength="47.8" lengthAdjust="spacingAndGlyphs" >60.920</text>
<text x="1287.3" y="664.9" font-size="15.3" fill="#252423" font-weight="bold" text-anchor="end" textLength="56.6" lengthAdjust="spacingAndGlyphs" >53.1202</text>
<polyline points="1301.2,659.4 1305.3,662.2 1307.3,659.9 1310.9,659.7 1314.3,663.3 1318.6,656.3 1320.6,658.9 1324.7,657.3 1327.8,661.4 1331.3,656.5 1334.9,659.7 1337.4,659.9 1339.7,661.7 1342.6,656.1 1344.6,656.3 1346.6,660.2 1351.2,658.6 1354.6,653.5 1356.8,660.9 1360.4,656.3 1363.5,658.9 1365.0,658.6 1367.6,661.7 1371.6,657.3 1373.7,660.2 1376.7,655.3 1378.6,655.8 1380.6,659.4 1382.7,651.2 1383.7,664.0" fill="none" stroke="#118dff" stroke-width="1.25" stroke-linejoin="round" clip-path="url(#tbclip)"/>
<rect x="606.5" y="754.0" width="745.1" height="8.0" fill="#b1b0af" rx="4" />
</svg>
</body></html>
